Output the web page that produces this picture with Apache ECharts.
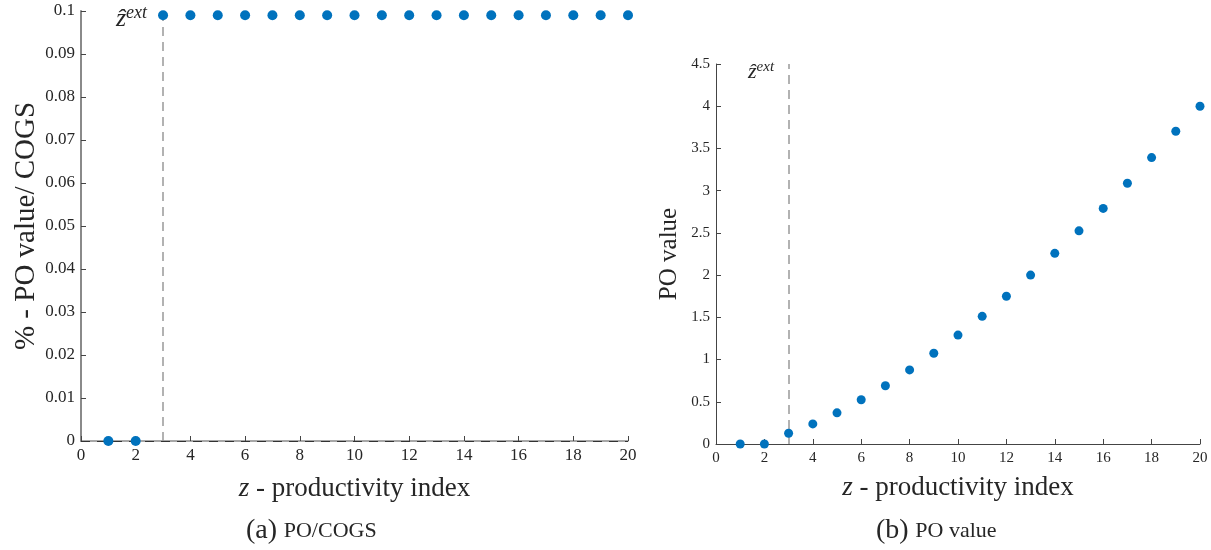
<!DOCTYPE html>
<html><head><meta charset="utf-8">
<script src="https://cdn.jsdelivr.net/npm/echarts@6/dist/echarts.min.js"></script>
<style>html,body{margin:0;padding:0;background:#fff}#c{width:1211px;height:550px}</style>
</head><body><div id="c"></div>
<script>
const zIndex = [1,2,3,4,5,6,7,8,9,10,11,12,13,14,15,16,17,18,19,20];
const poCogs = [0,0,0.099,0.099,0.099,0.099,0.099,0.099,0.099,0.099,0.099,0.099,0.099,0.099,0.099,0.099,0.099,0.099,0.099,0.099];
const poValue = [0,0,0.127,0.238,0.369,0.524,0.69,0.877,1.075,1.29,1.512,1.75,2.0,2.258,2.524,2.79,3.088,3.392,3.704,4.0];
const zExt = 3;
const xTicks = [0,2,4,6,8,10,12,14,16,18,20];
const leftYTicks = [0,0.01,0.02,0.03,0.04,0.05,0.06,0.07,0.08,0.09,0.1];
const rightYTicks = [0,0.5,1,1.5,2,2.5,3,3.5,4,4.5];

const FONT = 'Liberation Serif';
const TXT = '#262626';
const BLUE = '#0072BD';

function xAx(gi){
  return {type:'value', gridIndex:gi, min:xTicks[0], max:xTicks[xTicks.length-1], interval:2,
    axisLine:{show:true, onZero:false, lineStyle:{color:gi===0?'#8a8a8a':'#444', width:gi===0?1.5:1}},
    axisTick:{show:true, inside:true, length:5, lineStyle:{color:'#444'}},
    axisLabel:{color:TXT, fontFamily:FONT, fontSize:gi===0?17:15, margin:gi===0?6:7},
    splitLine:{show:false},
    name:'{i|z} - productivity index', nameLocation:'middle', nameGap:gi===0?34:30,
    nameTextStyle:{color:TXT, fontFamily:FONT, fontSize:27, rich:{i:{fontStyle:'italic', fontFamily:FONT, fontSize:27, color:TXT}}}
  };
}
const opt = {
  animation:false,
  grid:[{left:81, top:11, width:547, height:430},{left:716, top:64, width:484, height:380}],
  xAxis:[xAx(0), xAx(1)],
  yAxis:[
    {type:'value', gridIndex:0, min:leftYTicks[0], max:leftYTicks[leftYTicks.length-1], interval:0.01,
      axisLine:{show:true, lineStyle:{color:'#8a8a8a', width:2}},
      axisTick:{show:true, inside:true, length:5, lineStyle:{color:'#444'}},
      axisLabel:{color:TXT, fontFamily:FONT, fontSize:17, margin:6},
      splitLine:{show:false},
      name:'% - PO value/ COGS', nameLocation:'middle', nameGap:39,
      nameTextStyle:{color:TXT, fontFamily:FONT, fontSize:29}},
    {type:'value', gridIndex:1, min:rightYTicks[0], max:rightYTicks[rightYTicks.length-1], interval:0.5,
      axisLine:{show:true, lineStyle:{color:'#444', width:1}},
      axisTick:{show:true, inside:true, length:5, lineStyle:{color:'#444'}},
      axisLabel:{color:TXT, fontFamily:FONT, fontSize:15, margin:6},
      splitLine:{show:false},
      name:'PO value', nameLocation:'middle', nameGap:34,
      nameTextStyle:{color:TXT, fontFamily:FONT, fontSize:25}}
  ],
  series:[
    {type:'scatter', xAxisIndex:0, yAxisIndex:0, symbolSize:10, itemStyle:{color:BLUE, opacity:1},
      data: zIndex.map((z,i)=>[z,poCogs[i]]), z:5,
      markLine:{silent:true, symbol:'none', animation:false,
        data:[
          {xAxis:zExt, lineStyle:{color:'#999', type:[9,6], width:1.5}},
          {yAxis:0, lineStyle:{color:'#333', type:[9,7], width:1}}
        ],
        label:{show:false}}},
    {type:'scatter', xAxisIndex:1, yAxisIndex:1, symbolSize:9, itemStyle:{color:BLUE, opacity:1},
      data: zIndex.map((z,i)=>[z,poValue[i]]), z:5,
      markLine:{silent:true, symbol:'none', animation:false,
        data:[{xAxis:zExt}],
        lineStyle:{color:'#999', type:[9,6], width:1.5}, label:{show:false}}}
  ],
  graphic:[
    {type:'text', left:116, top:4, style:{text:'{z|ẑ}{s|ext}', rich:{z:{fontFamily:FONT, fontStyle:'italic', fontSize:26, fill:TXT}, s:{fontFamily:FONT, fontStyle:'italic', fontSize:18, fill:TXT, padding:[0,0,12,0]}}}},
    {type:'text', left:748, top:60, style:{text:'{z|ẑ}{s|ext}', rich:{z:{fontFamily:FONT, fontStyle:'italic', fontSize:22, fill:TXT}, s:{fontFamily:FONT, fontStyle:'italic', fontSize:15, fill:TXT, padding:[0,0,10,0]}}}},
    {type:'text', left:246, top:517, style:{text:'{a|(a)}  {b|PO/COGS}', rich:{a:{fontFamily:FONT, fontSize:28, fill:TXT}, b:{fontFamily:FONT, fontSize:22, fill:TXT}}}},
    {type:'text', left:876, top:517, style:{text:'{a|(b)}  {b|PO value}', rich:{a:{fontFamily:FONT, fontSize:28, fill:TXT}, b:{fontFamily:FONT, fontSize:22, fill:TXT}}}}
  ]
};
const ch = echarts.init(document.getElementById('c'), null, {renderer:'canvas'});
ch.setOption(opt);
</script></body></html>
